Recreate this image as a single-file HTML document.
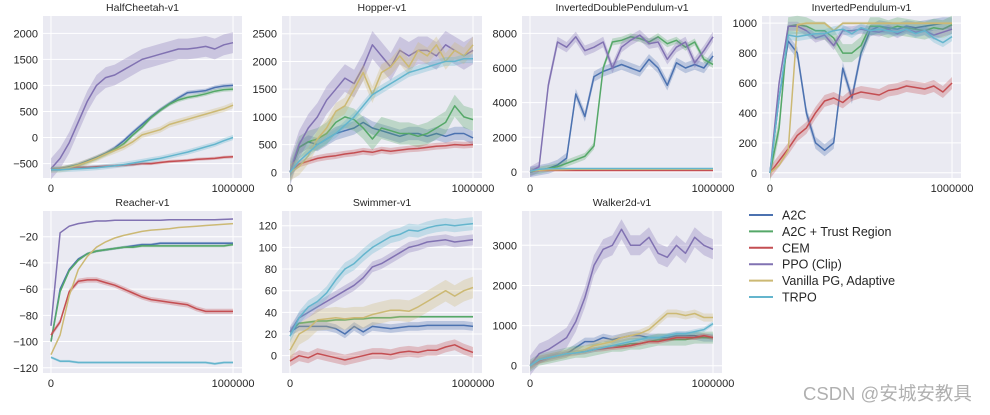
<!DOCTYPE html>
<html><head><meta charset="utf-8"><style>
body{margin:0;background:#fff;width:990px;height:410px;overflow:hidden}
svg{font-family:"Liberation Sans",sans-serif}
</style></head><body>
<svg id="c" width="990" height="410"></svg>
<div style="position:absolute;left:803px;top:380px;font:18.5px 'Liberation Sans','Noto Sans CJK SC',sans-serif;color:#b0b0b0;white-space:nowrap">CSDN @安城安教具</div>
<script>
const seriesNames=["A2C","A2C + Trust Region","CEM","PPO (Clip)","Vanilla PG, Adaptive","TRPO"];
const colors=["#4C72B0","#55A868","#C44E52","#8172B2","#CCB974","#64B5CD"];
const steps=[0,50000,100000,150000,200000,250000,300000,350000,400000,450000,500000,550000,600000,650000,700000,750000,800000,850000,900000,950000,1000000];
const xTicks=[0,1000000];
const titles=["HalfCheetah-v1","Hopper-v1","InvertedDoublePendulum-v1","InvertedPendulum-v1","Reacher-v1","Swimmer-v1","Walker2d-v1"];
const yTicks=[[-500,0,500,1000,1500,2000],[0,500,1000,1500,2000,2500],[0,2000,4000,6000,8000],[0,200,400,600,800,1000],[-120,-100,-80,-60,-40,-20],[0,20,40,60,80,100,120],[0,1000,2000,3000]];
const yLims=[[-777,2333],[-103,2820],[-350,9000],[-35,1048],[-124,-0.4],[-16,133.6],[-182,3855]];
const halfCheetah=[
[-600,-600,-560,-520,-450,-380,-300,-200,-60,100,250,400,530,650,760,860,880,900,960,990,1000],
[-600,-600,-570,-530,-470,-400,-320,-230,-120,50,200,380,520,640,720,770,800,840,890,920,930],
[-620,-600,-580,-570,-570,-560,-550,-540,-530,-520,-500,-500,-480,-460,-450,-440,-420,-410,-400,-380,-370],
[-600,-400,-100,300,700,1000,1150,1200,1300,1400,1500,1550,1600,1650,1700,1700,1720,1750,1700,1780,1820],
[-620,-610,-580,-530,-470,-400,-320,-250,-180,-80,50,100,150,250,300,350,400,450,500,550,620],
[-620,-620,-610,-600,-590,-580,-560,-540,-520,-490,-460,-430,-400,-360,-320,-280,-230,-180,-130,-60,0]];
const hopper=[
[0,450,550,500,600,700,750,800,900,800,750,700,650,700,700,650,700,650,700,700,620],
[0,450,550,600,700,900,1000,950,800,600,800,750,700,700,650,700,800,900,1200,1000,950],
[0,150,200,250,280,300,330,350,380,360,400,380,400,420,430,450,470,480,500,490,500],
[0,500,800,1000,1300,1500,1700,1600,1900,2300,2100,1900,2200,2100,2200,2200,2100,2300,2200,2100,2200],
[0,100,300,600,800,1100,1200,1500,1800,1400,1800,1900,2100,1900,2200,2100,2300,2000,2200,2100,2300],
[0,200,350,500,600,700,850,1000,1200,1400,1500,1600,1700,1800,1850,1900,1950,2000,2000,2050,2050]];
const invDoublePendulum=[
[0,100,200,400,800,4500,3200,5500,5800,6000,6200,6000,5800,6500,6000,5000,6300,6000,6200,6000,6700],
[0,100,200,300,500,700,900,1500,6000,7500,7600,7800,7700,7500,7800,7400,7600,7200,7500,6500,6200],
[60,80,80,80,80,80,80,80,80,80,80,80,80,80,80,80,80,80,80,80,80],
[0,300,5000,7500,7200,7800,7000,7200,7500,6000,7200,7600,7900,7400,7500,6500,7200,7500,6300,7000,7800],
[50,100,120,130,140,150,150,150,150,150,150,150,150,150,150,150,150,150,150,150,150],
[50,150,180,190,200,200,200,200,200,200,200,200,200,200,200,200,200,200,200,200,200]];
const invPendulum=[
[0,500,880,800,400,200,150,200,700,500,800,950,980,970,960,980,970,980,990,1000,1000],
[0,300,980,990,980,950,950,900,800,800,850,980,980,960,980,970,960,950,970,960,990],
[0,80,160,250,300,400,480,500,470,520,540,530,520,550,560,580,570,560,580,540,600],
[0,600,980,980,950,900,920,850,950,950,960,950,940,960,930,960,940,950,920,940,960],
[0,50,150,990,1000,1000,1000,950,1000,1000,1000,1000,1000,1000,1000,1000,1000,1000,1000,1000,1000],
[0,500,920,910,920,930,930,950,960,930,970,950,960,950,940,960,930,950,900,870,910]];
const reacher=[
[-100,-60,-45,-37,-33,-31,-30,-29,-28,-27,-26,-26,-25,-25,-25,-25,-25,-25,-25,-25,-25],
[-100,-62,-46,-38,-33,-31,-30,-29,-28,-28,-27,-27,-27,-27,-27,-27,-27,-27,-27,-27,-26],
[-95,-85,-62,-54,-53,-53,-55,-57,-60,-63,-66,-68,-69,-70,-71,-72,-75,-77,-77,-77,-77],
[-88,-17,-12,-10,-9,-8,-8,-7.5,-7.5,-7.5,-7.5,-7.5,-7.5,-7,-7,-7,-7,-7,-7,-6.8,-6.5],
[-110,-95,-65,-45,-35,-28,-24,-21,-19,-17.5,-16,-15,-14.5,-14,-13,-12.5,-12,-11.5,-11,-10.5,-10],
[-112,-115,-115,-116,-116,-116,-116,-116,-116,-116,-116,-116,-116,-116,-116,-116,-116,-116,-117,-116,-116]];
const swimmer=[
[22,27,27,27,27,25,20,27,22,27,26,25,26,27,27,28,28,28,28,28,27],
[22,30,31,32,32,33,33,34,34,35,35,35,36,36,36,36,36,36,36,36,36],
[-5,0,-2,2,0,-2,-4,-2,0,2,2,1,3,4,3,5,5,8,10,6,3],
[22,35,40,45,50,55,60,65,72,82,85,90,95,100,102,105,106,107,105,106,107],
[5,20,25,33,34,35,34,35,35,38,40,42,42,41,45,50,55,60,55,60,63],
[18,35,45,50,58,70,80,85,93,100,105,110,112,116,115,118,120,121,120,121,122]];
const walker=[
[0,150,200,250,300,450,600,600,700,650,700,750,750,700,700,700,750,750,750,700,700],
[0,150,200,250,300,350,350,400,450,500,500,550,550,600,650,650,650,650,700,700,700],
[0,120,200,250,300,320,350,400,420,450,470,500,550,600,600,650,700,700,700,750,700],
[0,300,400,550,700,1100,1700,2500,2900,3000,3400,3000,3000,3200,2800,2700,3000,2800,3200,3000,2900],
[0,150,200,250,300,350,400,500,550,600,700,750,800,900,1100,1300,1300,1250,1300,1200,1200],
[0,150,200,250,300,320,350,400,450,500,550,600,650,700,700,750,800,800,850,900,1050]];
const spreads=[[40,40,30,200,60,50],[120,200,60,250,150,80],[300,200,20,300,20,20],[40,60,40,30,10,30],[1,1,2,0.5,0.3,1],[4,1,5,5,10,6],[100,150,60,250,100,60]];
const allData=[halfCheetah,hopper,invDoublePendulum,invPendulum,reacher,swimmer,walker];
const boxes=[[43,16,242,178],[282,16,482,178],[522,16,722,178],[762,16,961,178],[43,211,242,373],[282,211,482,373],[522,211,722,373]];
const NS="http://www.w3.org/2000/svg";
const svg=document.getElementById('c');
function mk(tag,attrs,parent){const e=document.createElementNS(NS,tag);for(const k in attrs)e.setAttribute(k,attrs[k]);(parent||svg).appendChild(e);return e;}
allData.forEach((data,pi)=>{
  const [L,T,R,B]=boxes[pi];const w=R-L;
  const g=mk('g',{});
  
  
  const xs=v=>L+0.04*w+(v/1000000)*0.915*w;
  const [y0,y1]=yLims[pi];
  const ys=v=>B-(v-y0)/(y1-y0)*(B-T);
  const bg=mk('rect',{x:L,y:T,width:R-L,height:B-T,fill:'#EAEAF2'},g);
  
  
  yTicks[pi].forEach(t=>{
    const gl=mk('line',{x1:L,x2:R,y1:ys(t),y2:ys(t),stroke:'#fff','stroke-width':1},g);
    
    
    const tl=mk('text',{x:L-5,y:ys(t)+4,'text-anchor':'end','font-size':11,fill:'#262626'},g);
    
    
    tl.textContent=String(t).replace('-','\u2212');
  });
  xTicks.forEach(t=>{
    const gl=mk('line',{x1:xs(t),x2:xs(t),y1:T,y2:B,stroke:'#fff','stroke-width':1},g);
    
    
    const tl=mk('text',{x:xs(t),y:B+14,'text-anchor':'middle','font-size':11,fill:'#262626'},g);
    
    
    tl.textContent=String(t);
  });
  const tt=mk('text',{x:(L+R)/2,y:T-5,'text-anchor':'middle','font-size':10.5,fill:'#262626'},g);
  
  
  tt.textContent=titles[pi];
  data.forEach((ser,si)=>{
    const sp=spreads[pi][si];
    const up=ser.map((v,i)=>xs(steps[i]).toFixed(1)+','+ys(v+sp).toFixed(1));
    const dn=ser.map((v,i)=>xs(steps[i]).toFixed(1)+','+ys(v-sp).toFixed(1)).reverse();
    const band=mk('polygon',{points:up.concat(dn).join(' '),fill:colors[si],'fill-opacity':0.3},g);
    
    
    const ln=mk('polyline',{points:ser.map((v,i)=>xs(steps[i]).toFixed(1)+','+ys(v).toFixed(1)).join(' '),fill:'none',stroke:colors[si],'stroke-width':1.5,'stroke-linejoin':'round'},g);
    
    
  });
});
seriesNames.forEach((n,i)=>{
  const y=215+i*16.4;
  const g=mk('g',{});
  
  
  mk('line',{x1:749,x2:773,y1:y,y2:y,stroke:colors[i],'stroke-width':2},g);
  const t=mk('text',{x:782,y:y+4.5,'font-size':12.5,fill:'#262626'},g);
  t.textContent=n;
});
</script>
</body></html>
